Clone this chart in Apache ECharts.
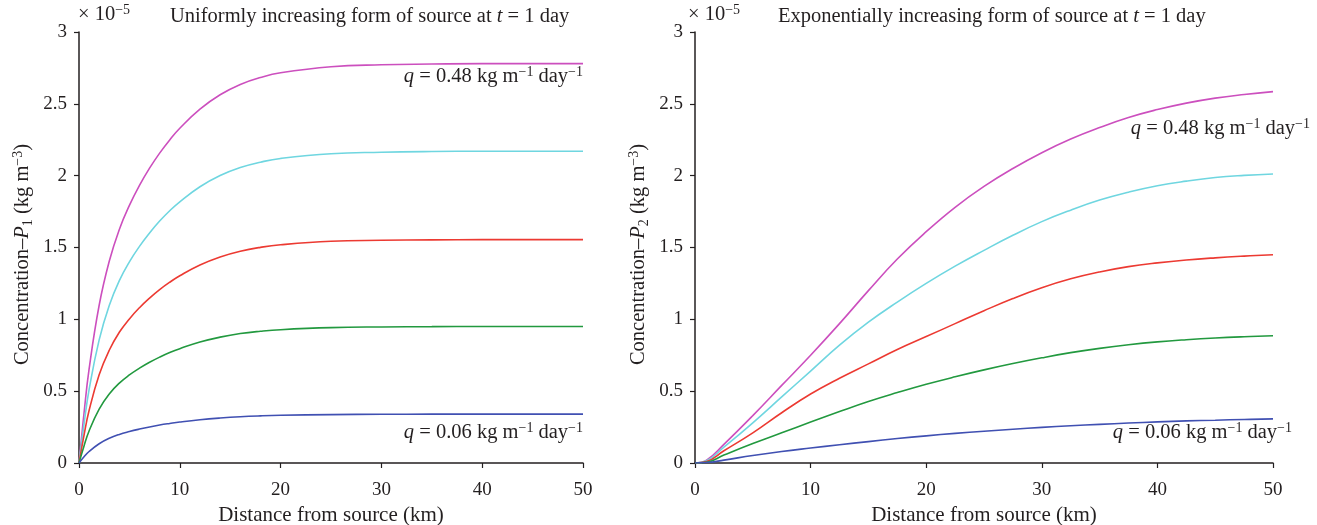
<!DOCTYPE html>
<html>
<head>
<meta charset="utf-8">
<script src="https://cdn.jsdelivr.net/npm/echarts@6/dist/echarts.min.js"></script>
<style>html,body{margin:0;padding:0;background:#fff}#c{width:1317px;height:525px}</style>
</head>
<body>
<div id="c"></div>
<script>
// ---------- data (values in units of 1e-5 kg m^-3) ----------
const xLeft = [0, 0.5, 1, 2, 3, 4, 5, 6, 7, 8, 9, 10, 12, 14, 16, 18, 20, 25, 30, 35, 40, 45, 50];
const leftMagenta = [0, 0.348, 0.653, 1.098, 1.404, 1.626, 1.793, 1.932, 2.052, 2.157, 2.249, 2.330, 2.463, 2.563, 2.635, 2.683, 2.716, 2.758, 2.772, 2.777, 2.78, 2.78, 2.78];
const leftCyan    = [0, 0.271, 0.510, 0.857, 1.096, 1.269, 1.400, 1.508, 1.601, 1.684, 1.756, 1.818, 1.923, 2.001, 2.057, 2.094, 2.120, 2.153, 2.163, 2.168, 2.17, 2.17, 2.17];
const leftRed     = [0, 0.194, 0.365, 0.614, 0.785, 0.910, 1.003, 1.081, 1.148, 1.207, 1.258, 1.303, 1.378, 1.434, 1.474, 1.501, 1.519, 1.543, 1.550, 1.553, 1.555, 1.555, 1.555];
const leftGreen   = [0, 0.119, 0.223, 0.375, 0.480, 0.556, 0.613, 0.660, 0.701, 0.737, 0.769, 0.796, 0.842, 0.876, 0.901, 0.917, 0.928, 0.942, 0.947, 0.949, 0.95, 0.95, 0.95];
const leftBlue    = [0, 0.043, 0.080, 0.134, 0.172, 0.199, 0.219, 0.236, 0.251, 0.264, 0.275, 0.285, 0.301, 0.313, 0.322, 0.328, 0.332, 0.337, 0.339, 0.340, 0.34, 0.34, 0.34];

const xRight = [0, 1, 2.5, 5, 7.5, 10, 12.5, 15, 17.5, 20, 22.5, 25, 27.5, 30, 32.5, 35, 37.5, 40, 42.5, 45, 47.5, 50];
const rightMagenta = [0, 0.02, 0.13, 0.33, 0.54, 0.75, 0.97, 1.20, 1.42, 1.61, 1.78, 1.925, 2.05, 2.16, 2.255, 2.335, 2.405, 2.46, 2.505, 2.54, 2.565, 2.585];
const rightCyan    = [0, 0.015, 0.11, 0.28, 0.46, 0.64, 0.82, 0.98, 1.12, 1.25, 1.37, 1.48, 1.585, 1.68, 1.76, 1.83, 1.885, 1.93, 1.962, 1.987, 2.002, 2.012];
const rightRed     = [0, 0.01, 0.085, 0.21, 0.35, 0.48, 0.59, 0.69, 0.79, 0.88, 0.97, 1.06, 1.145, 1.22, 1.282, 1.33, 1.367, 1.393, 1.413, 1.428, 1.44, 1.45];
const rightGreen   = [0, 0.005, 0.055, 0.135, 0.21, 0.285, 0.358, 0.428, 0.49, 0.548, 0.60, 0.648, 0.692, 0.732, 0.768, 0.798, 0.823, 0.843, 0.858, 0.87, 0.879, 0.886];
const rightBlue    = [0, 0.003, 0.02, 0.052, 0.08, 0.104, 0.127, 0.149, 0.17, 0.189, 0.206, 0.221, 0.235, 0.248, 0.259, 0.269, 0.278, 0.286, 0.293, 0.298, 0.303, 0.307];

const xTicks = [0, 10, 20, 30, 40, 50];
const yTicks = [0, 0.5, 1, 1.5, 2, 2.5, 3];

const colors = { magenta: '#cc4fbe', cyan: '#6fd6e0', red: '#ec3a32', green: '#22993f', blue: '#4050b2' };
// ------------------------------------------------------------

const FONT = '"Liberation Serif", "DejaVu Serif", serif';
const TXT = '#231f20';

function pairs(xs, ys) { return xs.map((x, i) => [x, ys[i]]); }

const richBase = {
  n: { fontFamily: FONT, fontSize: 20.5, color: TXT, lineHeight: 24, verticalAlign: 'middle' },
  i: { fontFamily: FONT, fontSize: 20.5, color: TXT, fontStyle: 'italic', lineHeight: 24, verticalAlign: 'middle' },
  sup: { fontFamily: FONT, fontSize: 14, color: TXT, lineHeight: 13, verticalAlign: 'top' },
  sub: { fontFamily: FONT, fontSize: 14, color: TXT, lineHeight: 13, verticalAlign: 'bottom' }
};

function xAxisCfg(gi) {
  return {
    gridIndex: gi, type: 'value', min: 0, max: 50, interval: 10,
    name: 'Distance from source (km)', nameLocation: 'middle', nameGap: 33,
    nameTextStyle: { fontFamily: FONT, fontSize: 21, color: TXT },
    axisLine: { show: true, onZero: false, lineStyle: { color: '#231f20', width: 1.5 } },
    axisTick: { show: true, inside: false, length: 5, lineStyle: { color: '#231f20', width: 1.2 } },
    axisLabel: { fontFamily: FONT, fontSize: 19, color: TXT, margin: 18,
      formatter: v => xTicks.includes(v) ? String(v) : '' },
    splitLine: { show: false }
  };
}
function yAxisCfg(gi, idx) {
  return {
    gridIndex: gi, type: 'value', min: 0, max: 3, interval: 0.5,
    name: '{n|Concentration–}{i|P}{sub|' + idx + '}{n| (kg m}{sup|−3}{n|)}',
    nameLocation: 'middle', nameRotate: 90, nameGap: 44,
    nameTextStyle: { fontFamily: FONT, fontSize: 20.5, color: TXT, rich: richBase, padding: [0, 14, 0, 0] },
    axisLine: { show: true, lineStyle: { color: '#231f20', width: 1.5 } },
    axisTick: { show: true, inside: false, length: 5, lineStyle: { color: '#231f20', width: 1.2 } },
    axisLabel: { fontFamily: FONT, fontSize: 19, color: TXT, margin: 12,
      formatter: v => yTicks.includes(v) ? String(v) : '' },
    splitLine: { show: false }
  };
}

function lineSeries(xi, data, xs, color) {
  return {
    type: 'line', xAxisIndex: xi, yAxisIndex: xi, data: pairs(xs, data),
    showSymbol: false, smooth: 0.45,
    lineStyle: { color: color, width: 1.6 }, itemStyle: { color: color },
    silent: true, animation: false
  };
}

function txt(x, y, text, align) {
  return { type: 'text', x: x, y: y, silent: true,
    style: { text: text, align: align || 'left', verticalAlign: 'middle', rich: richBase,
      fontFamily: FONT, fontSize: 20.5, fill: TXT } };
}

const chart = echarts.init(document.getElementById('c'), null, { renderer: 'canvas' });
chart.setOption({
  backgroundColor: '#ffffff',
  animation: false,
  grid: [
    { left: 79, right: 734, top: 32, bottom: 62, containLabel: false, outerBoundsMode: 'none' },
    { left: 695, right: 44, top: 32, bottom: 62, containLabel: false, outerBoundsMode: 'none' }
  ],
  xAxis: [xAxisCfg(0), xAxisCfg(1)],
  yAxis: [yAxisCfg(0, 1), yAxisCfg(1, 2)],
  series: [
    lineSeries(0, leftMagenta, xLeft, colors.magenta),
    lineSeries(0, leftCyan, xLeft, colors.cyan),
    lineSeries(0, leftRed, xLeft, colors.red),
    lineSeries(0, leftGreen, xLeft, colors.green),
    lineSeries(0, leftBlue, xLeft, colors.blue),
    lineSeries(1, rightMagenta, xRight, colors.magenta),
    lineSeries(1, rightCyan, xRight, colors.cyan),
    lineSeries(1, rightRed, xRight, colors.red),
    lineSeries(1, rightGreen, xRight, colors.green),
    lineSeries(1, rightBlue, xRight, colors.blue)
  ],
  graphic: [
    txt(78, 15, '{n|× 10}{sup|−5}'),
    txt(170, 17, '{n|Uniformly increasing form of source at }{i|t}{n| = 1 day}'),
    txt(688, 15, '{n|× 10}{sup|−5}'),
    txt(778, 17, '{n|Exponentially increasing form of source at }{i|t}{n| = 1 day}'),
    txt(583, 77, '{i|q}{n| = 0.48 kg m}{sup|−1}{n| day}{sup|−1}', 'right'),
    txt(1310, 129, '{i|q}{n| = 0.48 kg m}{sup|−1}{n| day}{sup|−1}', 'right'),
    txt(583, 433, '{i|q}{n| = 0.06 kg m}{sup|−1}{n| day}{sup|−1}', 'right'),
    txt(1292, 433, '{i|q}{n| = 0.06 kg m}{sup|−1}{n| day}{sup|−1}', 'right')
  ]
});
</script>
</body>
</html>
